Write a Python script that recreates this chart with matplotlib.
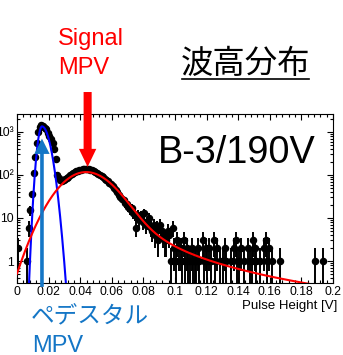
import numpy as np
import matplotlib
matplotlib.use('Agg')
import matplotlib.pyplot as plt
from matplotlib.patches import FancyArrowPatch
from matplotlib.lines import Line2D
from matplotlib.ticker import FixedLocator, MultipleLocator, LogLocator, NullFormatter

# pulse height histogram, 1 mV bins from 0 to 0.2 V
bin_width = 0.001
counts = [
    2, 0, 0, 0, 0, 0, 1, 6, 15, 37,
    112, 260, 540, 1000, 1300, 1440, 1380, 1260, 1150, 950,
    800, 700, 560, 410, 230, 100, 84, 78, 74, 76,
    80, 86, 92, 100, 104, 112, 118, 121, 126, 130,
    134, 138, 140, 139, 141, 136, 133, 128, 124, 118,
    114, 106, 100, 96, 88, 82, 78, 72, 64, 62,
    55, 50, 44, 40, 34, 31, 28, 26, 22, 21,
    18, 16, 17, 13, 12, 6, 12, 9, 11, 8,
    13, 7, 8, 10, 6, 5, 7, 4, 6, 3,
    7, 5, 4, 3, 3, 5, 4, 1, 6, 2,
    1, 3, 2, 2, 1, 3, 1, 2, 1, 1,
    2, 1, 1, 1, 2, 1, 0, 3, 1, 2,
    1, 2, 1, 0, 3, 1, 2, 0, 1, 0,
    1, 2, 1, 0, 0, 1, 0, 2, 3, 1,
    1, 2, 0, 1, 0, 0, 2, 1, 1, 3,
    2, 1, 0, 1, 0, 0, 2, 3, 1, 2,
    0, 1, 0, 0, 0, 0, 1, 0, 0, 0,
    0, 0, 0, 0, 0, 0, 0, 0, 0, 0,
    0, 0, 0, 0, 0, 0, 0, 0, 1, 0,
    0, 0, 0, 1, 0, 0, 0, 0, 0, 0,
]

# pedestal fit (gaussian, wider on the high side)
ped_mean = 0.0158
ped_amp = 1350
ped_sig_lo = 0.0020
ped_sig_hi = 0.0037

# signal fit (landau convolved with gaussian)
sig_mpv = 0.0412
sig_width = 0.0013
sig_smear = 0.0128
sig_events = 4250

signal_mpv_x = 0.0447
xticks = [0, 0.02, 0.04, 0.06, 0.08, 0.1, 0.12, 0.14, 0.16, 0.18, 0.2]
xtick_labels = ['0', '0.02', '0.04', '0.06', '0.08', '0.1', '0.12', '0.14', '0.16', '0.18', '0.2']
yticks = [1, 10, 100, 1000]
ytick_labels = ['1', '10', '10²', '10³']


def landau(lam):
    t = np.geomspace(1e-7, 60, 6000)
    out = np.zeros_like(lam)
    for s in range(0, len(lam), 400):
        l = lam[s:s + 400]
        f = np.exp(-t * np.log(t) - l[:, None] * t) * np.sin(np.pi * t)
        out[s:s + 400] = np.trapezoid(f, t, axis=1) / np.pi
    out[lam < -3.5] = 0
    return np.clip(out, 0, None)


def langaus(x_lo, x_hi, step=0.0002):
    grid = np.arange(x_lo - 0.08, x_hi + 0.08, step)
    dens = landau((grid - sig_mpv) / sig_width) / sig_width
    k = np.arange(-5 * sig_smear, 5 * sig_smear + step / 2, step)
    kern = np.exp(-0.5 * (k / sig_smear) ** 2) / (np.sqrt(2 * np.pi) * sig_smear)
    conv = np.convolve(dens, kern, mode='same') * step
    keep = (grid >= x_lo) & (grid <= x_hi)
    return grid[keep], sig_events * bin_width * conv[keep]


counts = np.array(counts, dtype=float)
centers = (np.arange(len(counts)) + 0.5) * bin_width
has = counts > 0
xc, yc = centers[has], counts[has]
err = np.sqrt(yc)
err_lo = np.minimum(err, yc - 1e-3)

W, H = 343, 355
fig = plt.figure(figsize=(W / 100, H / 100), dpi=100)
ax = fig.add_axes([17 / W, 1 - 283 / H, 316 / W, 169 / H])
plt.rcParams['font.family'] = 'Liberation Sans'

ax.errorbar(xc, yc, yerr=[err_lo, err], xerr=bin_width / 2, fmt='o', color='black',
            ms=4.4, elinewidth=1.4, capsize=0, zorder=2)

xb = np.linspace(0, 0.045, 600)
sig = np.where(xb < ped_mean, ped_sig_lo, ped_sig_hi)
ax.plot(xb, ped_amp * np.exp(-0.5 * ((xb - ped_mean) / sig) ** 2), color='#0000ff', lw=1.5, zorder=3)

xr, yr = langaus(0.0, 0.2)
ax.plot(xr, yr, color='#ff0000', lw=1.5, zorder=3)

ax.set_yscale('log')
ax.set_xlim(0, 0.2)
ax.set_ylim(0.308, 2620)

ax.xaxis.set_major_locator(FixedLocator(xticks))
ax.set_xticklabels(xtick_labels)
ax.xaxis.set_minor_locator(MultipleLocator(0.004))
ax.yaxis.set_major_locator(FixedLocator(yticks))
ax.set_yticklabels(ytick_labels)
ax.yaxis.set_minor_locator(LogLocator(base=10, subs=np.arange(2, 10)))
ax.yaxis.set_minor_formatter(NullFormatter())
ax.tick_params(which='both', direction='in', top=True, right=True, width=0.8,
               labelsize=8.8, pad=2.5)
ax.tick_params(which='major', length=4.5)
ax.tick_params(which='minor', length=2.5)
for lab in ax.get_xticklabels() + ax.get_yticklabels():
    lab.set_family('Liberation Sans')
for sp in ax.spines.values():
    sp.set_linewidth(0.8)

# MPV arrows
red_arrow = FancyArrowPatch((signal_mpv_x, 8500), (signal_mpv_x, 154),
                            arrowstyle='simple,head_length=1.3,head_width=1.25,tail_width=0.58',
                            mutation_scale=10, color='#ff0000', lw=0,
                            shrinkA=0, shrinkB=0, clip_on=False, zorder=5)
ax.add_patch(red_arrow)
blue_arrow = FancyArrowPatch((ped_mean, 0.25), (ped_mean, 700),
                             arrowstyle='simple,head_length=1.1,head_width=1.1,tail_width=0.26',
                             mutation_scale=10, color='#1476c6', lw=0,
                             shrinkA=0, shrinkB=0, clip_on=False, zorder=5)
ax.add_patch(blue_arrow)

fig.text(337 / W, 1 - 306 / H, 'Pulse Height [V]', ha='right', va='center',
         fontsize=9.5, family='Liberation Sans')
fig.text(158 / W, 1 - 163 / H, 'B-3/190V', ha='left', va='baseline',
         fontsize=27.3, family='Liberation Sans')
fig.text(58 / W, 1 - 45 / H, 'Signal', ha='left', va='baseline',
         fontsize=17, color='#ff0000', family='Liberation Sans')
fig.text(58 / W, 1 - 74 / H, 'MPV', ha='left', va='baseline',
         fontsize=17, color='#ff0000', family='Liberation Sans')
fig.text(181 / W, 1 - 63.5 / H, '波高分布', ha='left', va='center',
         fontsize=23.3, family='Noto Sans CJK JP')
fig.add_artist(Line2D([182 / W, 309 / W], [1 - 79 / H, 1 - 79 / H], color='black', lw=1.2))
fig.text(31 / W, 1 - 317 / H, 'ペデスタル', ha='left', va='center',
         fontsize=17, color='#1476c6', family='Noto Sans CJK JP')
fig.text(32 / W, 1 - 352.5 / H, 'MPV', ha='left', va='baseline',
         fontsize=17, color='#1476c6', family='Liberation Sans')

fig.savefig('out.png', dpi=100)
